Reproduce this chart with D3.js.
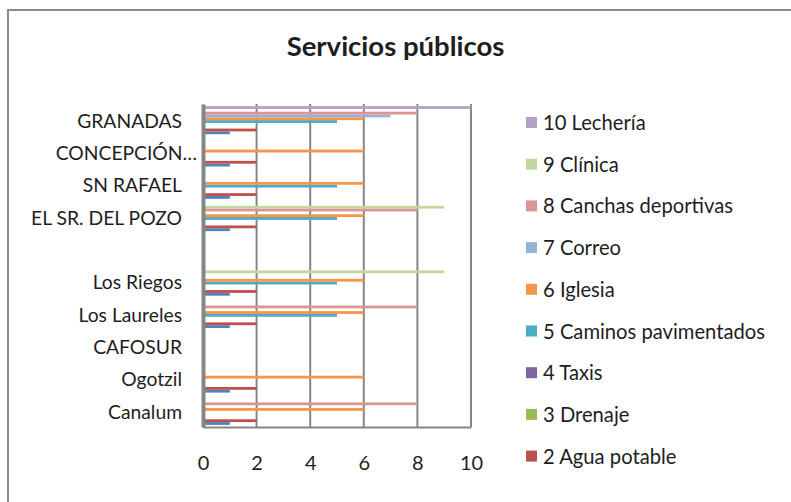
<!DOCTYPE html>
<html>
<head>
<meta charset="utf-8">
<script src="https://cdn.jsdelivr.net/npm/d3@7"></script>
<style>
  html, body { margin: 0; padding: 0; background: #ffffff; }
  svg { display: block; }
  text { font-family: "Lato", "Carlito", "Open Sans", sans-serif; fill: #1e1e1e; }
</style>
</head>
<body>
<svg id="chart" width="791" height="502"></svg>
<script>
// ---------- DATA ----------
const title = "Servicios públicos";
// categories, top to bottom as drawn
const categories = ["GRANADAS", "CONCEPCIÓN…", "SN RAFAEL", "EL SR. DEL POZO", " ", "Los Riegos", "Los Laureles", "CAFOSUR", "Ogotzil", "Canalum"];
// series names (series 1 is not visible in the truncated legend)
const seriesNames = ["1 Energía eléctrica", "2 Agua potable", "3 Drenaje", "4 Taxis", "5 Caminos pavimentados", "6 Iglesia", "7 Correo", "8 Canchas deportivas", "9 Clínica", "10 Lechería"];
const seriesColors = ["#4F81BD", "#C0504D", "#9BBB59", "#8064A2", "#4BACC6", "#F79646", "#95B3D7", "#D99694", "#C3D69B", "#B3A2C7"];
// values per series, aligned with categories
const s1  = [1, 1, 1, 1, 0, 1, 1, 0, 1, 1];
const s2  = [2, 2, 2, 2, 0, 2, 2, 0, 2, 2];
const s3  = [0, 0, 0, 0, 0, 0, 0, 0, 0, 0];
const s4  = [0, 0, 0, 0, 0, 0, 0, 0, 0, 0];
const s5  = [5, 0, 5, 5, 0, 5, 5, 0, 0, 0];
const s6  = [6, 6, 6, 6, 0, 6, 6, 0, 6, 6];
const s7  = [7, 0, 0, 0, 0, 0, 0, 0, 0, 0];
const s8  = [8, 0, 0, 8, 0, 0, 8, 0, 0, 8];
const s9  = [0, 0, 0, 9, 0, 9, 0, 0, 0, 0];
const s10 = [10, 0, 0, 0, 0, 0, 0, 0, 0, 0];
const seriesValues = [s1, s2, s3, s4, s5, s6, s7, s8, s9, s10];
const xTicks = [0, 2, 4, 6, 8, 10];
// legend shows series 10 down to 2 (legend is truncated)
const legendSeries = [9, 8, 7, 6, 5, 4, 3, 2, 1];

// ---------- LAYOUT ----------
const svg = d3.select("#chart");
const plot = { left: 203, right: 471, top: 104, bottom: 427 };
const gridColor = "#868686";
const textColor = "#1e1e1e";

// chart frame (extends past the visible area)
svg.append("rect")
  .attr("x", 8).attr("y", 10).attr("width", 820).attr("height", 520)
  .attr("fill", "#ffffff").attr("stroke", "#8a8a8a").attr("stroke-width", 2);

// title
svg.append("text")
  .attr("x", 395.5).attr("y", 56)
  .attr("text-anchor", "middle")
  .style("font-size", "27.5px").style("font-weight", "bold")
  .text(title);

const x = d3.scaleLinear().domain([0, 10]).range([plot.left, plot.right]);
const y = d3.scaleBand().domain(categories).range([plot.top, plot.bottom]).padding(0);
// within a category: series 10 on top, series 1 at the bottom
const yInner = d3.scaleBand()
  .domain(d3.range(seriesNames.length).reverse())
  .range([0, y.bandwidth()])
  .paddingInner(0).paddingOuter(0.75);

// gridlines
svg.append("g").selectAll("line")
  .data(xTicks.filter(t => t > 0))
  .join("line")
  .attr("x1", d => x(d)).attr("x2", d => x(d))
  .attr("y1", plot.top).attr("y2", plot.bottom)
  .attr("stroke", gridColor).attr("stroke-width", 2);

// bars
const barG = svg.append("g");
seriesValues.forEach((vals, si) => {
  barG.append("g")
    .selectAll("rect")
    .data(vals.map((v, ci) => ({ v, c: categories[ci] })).filter(d => d.v > 0))
    .join("rect")
    .attr("x", x(0))
    .attr("y", d => y(d.c) + yInner(si))
    .attr("width", d => x(d.v) - x(0))
    .attr("height", yInner.bandwidth())
    .attr("fill", seriesColors[si]);
});

// bottom axis
const xAxis = svg.append("g")
  .attr("transform", `translate(0,${plot.bottom})`)
  .call(d3.axisBottom(x).tickValues(xTicks).tickFormat(d3.format("d")).tickSize(0).tickSizeOuter(0).tickPadding(29));
xAxis.attr("font-family", null).attr("font-size", null);
xAxis.select(".domain").attr("stroke", gridColor).attr("stroke-width", 2);
xAxis.selectAll("text").style("font-size", "20px").attr("fill", textColor);

// left axis
const yAxis = svg.append("g")
  .attr("transform", `translate(${plot.left},0)`)
  .call(d3.axisLeft(y).tickSize(0).tickSizeOuter(0).tickPadding(21));
yAxis.attr("font-family", null).attr("font-size", null);
yAxis.select(".domain").attr("stroke", gridColor).attr("stroke-width", 4);
yAxis.selectAll("text").style("font-size", "19.3px").attr("fill", textColor)
  .attr("y", 1.5)
  .attr("dx", d => d.endsWith("…") ? 15 : 0);

// legend
const legend = svg.append("g");
const lg = legend.selectAll("g")
  .data(legendSeries)
  .join("g")
  .attr("transform", (d, i) => `translate(526,${123 + i * 41.7})`);
lg.append("rect")
  .attr("x", 0).attr("y", -6).attr("width", 11).attr("height", 11)
  .attr("fill", d => seriesColors[d]);
lg.append("text")
  .attr("x", 17).attr("y", 0).attr("dy", "0.35em")
  .style("font-size", "20.2px")
  .text(d => seriesNames[d]);
</script>
</body>
</html>
